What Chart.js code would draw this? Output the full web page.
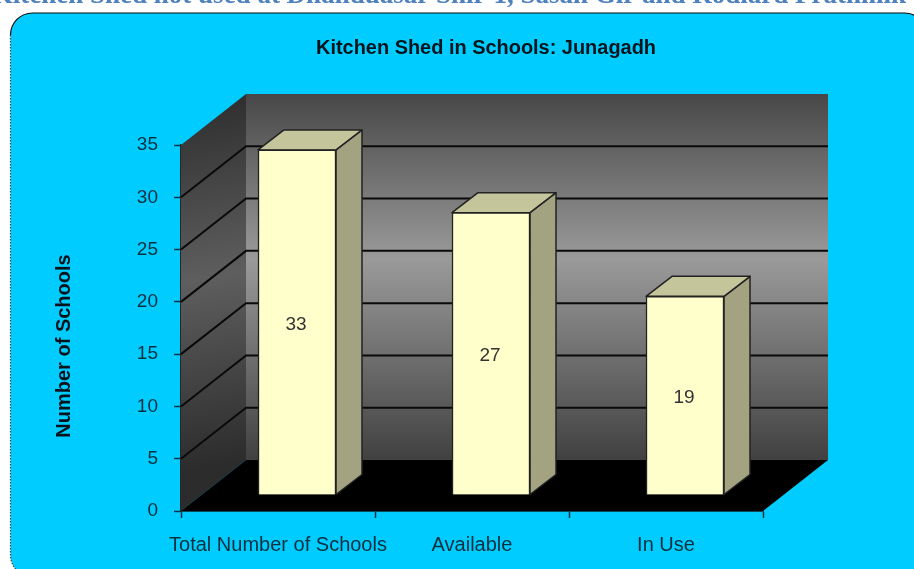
<!DOCTYPE html>
<html>
<head>
<meta charset="utf-8">
<style>
html,body{margin:0;padding:0;background:#fff;overflow:hidden}
#wrap{position:relative;width:914px;height:569px}
canvas{display:block;filter:blur(0.4px)}
</style>
<script src="https://cdn.jsdelivr.net/npm/chart.js@4"></script>
</head>
<body>
<div id="wrap"><canvas id="c" width="914" height="569"></canvas></div>
<script>
const categories = ["Total Number of Schools", "Available", "In Use"];
const schools = [33, 27, 19];
const chartTitle = "Kitchen Shed in Schools: Junagadh";
const axisTitle = "Number of Schools";
const pageHeading = "Kitchen Shed not used at Dhanduasar Shir-1, Sasan Gir and Rodiard Prathmik";

const FONT = '"Liberation Sans", Arial, sans-serif';
const depthX = 65, depthY = 51;   // depth of the chart box
const barDX = 19, barDY = 16;     // bars stand in the middle of the floor
const barDepthX = 26, barDepthY = 20;

function poly(ctx, pts, fill, stroke, lw) {
  ctx.beginPath();
  pts.forEach((p, i) => i ? ctx.lineTo(p[0], p[1]) : ctx.moveTo(p[0], p[1]));
  ctx.closePath();
  if (fill) { ctx.fillStyle = fill; ctx.fill(); }
  if (stroke) { ctx.strokeStyle = stroke; ctx.lineWidth = lw || 1; ctx.lineJoin = 'round'; ctx.stroke(); }
}

const scenePlugin = {
  id: 'scene',
  afterLayout(chart) {
    const t = chart.titleBlock;
    t.left = 316; t.right = 656;
    const s = chart.scales.y;
    if (!s._shifted) {
      const d = s.drawTitle;
      s.drawTitle = function () {
        const c = this.ctx;
        c.save();
        c.translate(2, 18);
        d.apply(this, arguments);
        c.restore();
      };
      s._shifted = true;
    }
  },
  beforeDraw(chart) {
    const ctx = chart.ctx;
    ctx.save();
    // heading of the page, cut off by the top of the picture
    ctx.font = 'bold 27px "Liberation Serif", serif';
    ctx.fillStyle = '#4f81bd';
    ctx.textAlign = 'right';
    ctx.textBaseline = 'alphabetic';
    ctx.fillText(pageHeading, 906, 3);
    // rounded panel
    const x0 = 10.5, y0 = 13, w = 916, h = 564, r = 22;
    ctx.beginPath();
    ctx.roundRect(x0, y0, w, h, r);
    ctx.fillStyle = '#00ccff';
    ctx.fill();
    // solid black top edge
    ctx.beginPath();
    ctx.arc(x0 + r, y0 + r, r, Math.PI, 1.5 * Math.PI);
    ctx.lineTo(x0 + w - r, y0);
    ctx.arc(x0 + w - r, y0 + r, r, 1.5 * Math.PI, 2 * Math.PI);
    ctx.strokeStyle = '#0a0a0a';
    ctx.lineWidth = 1.2;
    ctx.stroke();
    // dotted left edge
    ctx.beginPath();
    ctx.moveTo(x0, y0 + r);
    ctx.lineTo(x0, y0 + h - r);
    ctx.arc(x0 + r, y0 + h - r, r, Math.PI, 0.5 * Math.PI, true);
    ctx.setLineDash([1.5, 1.5]);
    ctx.strokeStyle = '#33474f';
    ctx.stroke();
    ctx.restore();
  },
  beforeDatasetsDraw(chart) {
    const ctx = chart.ctx, a = chart.chartArea, y = chart.scales.y;
    const L = a.left, R = a.right, T = a.top, B = a.bottom;
    ctx.save();
    // back wall
    const bg = ctx.createLinearGradient(0, T - depthY, 0, B - depthY);
    bg.addColorStop(0, '#474747');
    bg.addColorStop(0.45, '#9a9a9a');
    bg.addColorStop(1, '#414141');
    poly(ctx, [[L + depthX, T - depthY], [R + depthX, T - depthY], [R + depthX, B - depthY], [L + depthX, B - depthY]], bg);
    // left wall
    const lg = ctx.createLinearGradient(L, T - depthY, L + depthX, B - depthY);
    lg.addColorStop(0, '#2c2c2c');
    lg.addColorStop(0.5, '#5e5e5e');
    lg.addColorStop(1, '#2c2c2c');
    poly(ctx, [[L, T], [L + depthX, T - depthY], [L + depthX, B - depthY], [L, B]], lg);
    // floor
    poly(ctx, [[L, B], [L + depthX, B - depthY], [R + depthX, B - depthY], [R, B]], '#000');
    // grid lines on walls
    ctx.strokeStyle = '#0a0a0a';
    ctx.lineWidth = 2;
    y.ticks.forEach(t => {
      if (t.value <= y.min || t.value >= y.max) return;
      const py = y.getPixelForValue(t.value);
      ctx.beginPath();
      ctx.moveTo(L, py);
      ctx.lineTo(L + depthX, py - depthY);
      ctx.lineTo(R + depthX, py - depthY);
      ctx.stroke();
    });
    // 3D faces of the bars
    chart.getDatasetMeta(0).data.forEach(bar => {
      const half = bar.width / 2;
      const x0 = bar.x - half + barDX, x1 = bar.x + half + barDX;
      const top = bar.y - barDY, bot = bar.base - barDY;
      poly(ctx, [[x1, top], [x1 + barDepthX, top - barDepthY], [x1 + barDepthX, bot - barDepthY], [x1, bot]], '#a3a382', '#222', 1.5);
      poly(ctx, [[x0, top], [x0 + barDepthX, top - barDepthY], [x1 + barDepthX, top - barDepthY], [x1, top]], '#c5c59c', '#222', 1.5);
    });
    ctx.translate(barDX, -barDY);
  },
  afterDatasetsDraw(chart) {
    const ctx = chart.ctx;
    ctx.restore();
    ctx.save();
    ctx.font = '19px ' + FONT;
    ctx.fillStyle = '#333';
    ctx.textAlign = 'center';
    ctx.textBaseline = 'middle';
    chart.getDatasetMeta(0).data.forEach((bar, i) => {
      ctx.fillText(String(schools[i]), bar.x + barDX - 1, (bar.y + bar.base) / 2 - barDY + 2.5);
    });
    ctx.restore();
  }
};

new Chart(document.getElementById('c'), {
  type: 'bar',
  data: {
    labels: categories,
    datasets: [{
      data: schools,
      backgroundColor: '#ffffcc',
      borderColor: '#222',
      borderWidth: 1.5,
      barThickness: 78,
      clip: false
    }]
  },
  plugins: [scenePlugin],
  options: {
    responsive: false,
    animation: false,
    layout: { padding: { left: 50, right: 151, top: 36, bottom: 0 } },
    plugins: {
      legend: { display: false },
      tooltip: { enabled: false },
      title: {
        display: true,
        text: chartTitle,
        color: '#04141c',
        font: { family: FONT, size: 20, weight: 'bold' },
        padding: { top: 0, bottom: 85 }
      }
    },
    scales: {
      x: {
        afterFit(s) { s.height = 58; },
        border: { display: true, color: '#0a4a5c', width: 2 },
        grid: { display: true, drawOnChartArea: false, tickLength: 7, tickColor: '#0a3444', tickWidth: 1.5 },
        ticks: { color: '#06303f', font: { family: FONT, size: 20 }, padding: 15, maxRotation: 0, autoSkip: false }
      },
      y: {
        min: 0,
        max: 35,
        afterFit(s) { s.width = 131; },
        border: { display: true, color: '#1a2a30', width: 1.5 },
        grid: { display: true, drawOnChartArea: false, tickLength: 7, tickColor: '#0a3444', tickWidth: 1.5 },
        ticks: { stepSize: 5, color: '#06303f', font: { family: FONT, size: 19 }, padding: 16 },
        title: {
          display: true,
          text: axisTitle,
          color: '#04141c',
          font: { family: FONT, size: 20, weight: 'bold' },
          padding: 0
        }
      }
    }
  }
});
</script>
</body>
</html>
